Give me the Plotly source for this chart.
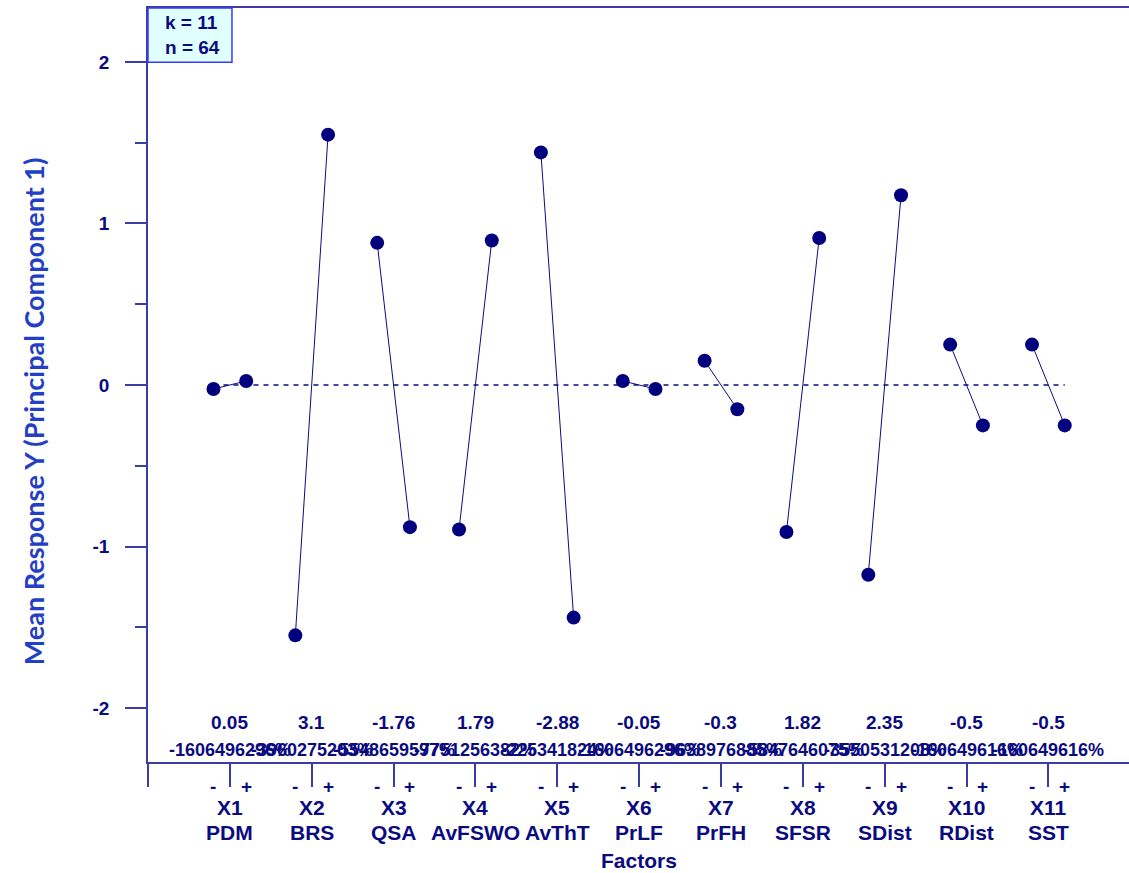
import plotly.graph_objects as go

# Main-effects data: mean response at the low (-) and high (+) level of each factor
factor_ids = ["X1", "X2", "X3", "X4", "X5", "X6", "X7", "X8", "X9", "X10", "X11"]
factor_names = ["PDM", "BRS", "QSA", "AvFSWO", "AvThT", "PrLF", "PrFH", "SFSR", "SDist", "RDist", "SST"]
low_means = [-0.025, -1.55, 0.88, -0.895, 1.44, 0.025, 0.15, -0.91, -1.175, 0.25, 0.25]
high_means = [0.025, 1.55, -0.88, 0.895, -1.44, -0.025, -0.15, 0.91, 1.175, -0.25, -0.25]
effect_labels = ["0.05", "3.1", "-1.76", "1.79", "-2.88", "-0.05", "-0.3", "1.82", "2.35", "-0.5", "-0.5"]
percent_labels = ["-1606496296%", "-3960275203%", "-5548659597%", "-7751256382%", "-225341824%",
                  "-1606496296%", "-9638976885%", "-5847646075%", "-3550531208%", "-160649616%",
                  "-160649616%"]
y_ticks = [-2, -1, 0, 1, 2]
y_tick_text = ["-2", "-1", "0", "1", "2"]
k_factors = 11
n_runs = 64

NAVY = "#0b0b80"
AXIS = "#3c3ca6"
TITLE_BLUE = "#2340c4"
FONT = "Liberation Sans"

positions = list(range(1, len(factor_ids) + 1))
offset = 0.2

fig = go.Figure()

# dashed reference line at zero
fig.add_trace(go.Scatter(
    x=[positions[0] - offset, positions[-1] + offset], y=[0, 0],
    mode="lines", line=dict(color=NAVY, width=1.3, dash="5px,5px"),
    hoverinfo="skip", showlegend=False))

# low/high means joined per factor
xs, ys = [], []
for p, lo, hi in zip(positions, low_means, high_means):
    xs += [p - offset, p + offset, None]
    ys += [lo, hi, None]
fig.add_trace(go.Scatter(
    x=xs, y=ys, mode="lines+markers",
    line=dict(color=NAVY, width=1),
    marker=dict(symbol="circle", size=14, color="#00007f"),
    showlegend=False))

annotations = []
# effect and percentage rows inside the plot
for p, eff, pct in zip(positions, effect_labels, percent_labels):
    annotations.append(dict(x=p, y=-2.09, xref="x", yref="y", text=f"<b>{eff}</b>",
                            showarrow=False, yanchor="middle",
                            font=dict(family=FONT, size=19, color=NAVY)))
    annotations.append(dict(x=p, y=-2.26, xref="x", yref="y", text=f"<b>{pct}</b>",
                            showarrow=False, yanchor="middle",
                            font=dict(family=FONT, size=18, color=NAVY)))

# level signs and factor names below the axis
for p, fid, name in zip(positions, factor_ids, factor_names):
    annotations.append(dict(x=p - offset, y=-0.033, xref="x", yref="paper", text="<b>-</b>",
                            showarrow=False, yanchor="middle",
                            font=dict(family=FONT, size=19, color=NAVY)))
    annotations.append(dict(x=p + offset, y=-0.033, xref="x", yref="paper", text="<b>+</b>",
                            showarrow=False, yanchor="middle",
                            font=dict(family=FONT, size=19, color=NAVY)))
    annotations.append(dict(x=p, y=-0.061, xref="x", yref="paper", text=f"<b>{fid}</b>",
                            showarrow=False, yanchor="middle",
                            font=dict(family=FONT, size=21, color=NAVY)))
    annotations.append(dict(x=p, y=-0.094, xref="x", yref="paper", text=f"<b>{name}</b>",
                            showarrow=False, yanchor="middle",
                            font=dict(family=FONT, size=21, color=NAVY)))

annotations.append(dict(x=0.5, y=-0.13, xref="paper", yref="paper", text="<b>Factors</b>",
                        showarrow=False, xanchor="center", yanchor="middle",
                        font=dict(family=FONT, size=21, color=NAVY)))

annotations.append(dict(x=-0.117, y=0.4655, xref="paper", yref="paper", textangle=-90,
                        xanchor="center", yanchor="middle",
                        text="<b>Mean Response Y (Principal Component 1)</b>",
                        showarrow=False, font=dict(family="Lato", size=27, color=TITLE_BLUE)))

# k / n info box
annotations.append(dict(x=0.0153, y=0.964, xref="paper", yref="paper", xanchor="left",
                        yanchor="middle", text=f"<b>k = {k_factors}<br>n = {n_runs}</b>",
                        align="left", showarrow=False,
                        font=dict(family=FONT, size=19, color=NAVY)))

fig.update_layout(
    width=1129, height=873,
    margin=dict(l=148, r=0, t=8, b=111),
    paper_bgcolor="white", plot_bgcolor="white",
    annotations=annotations,
    shapes=[dict(type="rect", xref="paper", yref="paper", x0=0, x1=0.0856, y0=0.928, y1=1.0,
                 fillcolor="#e0ffff", line=dict(color="#3a3aff", width=1.5), layer="above")],
    xaxis=dict(range=[0, 11.985], showgrid=False, zeroline=False,
               showline=True, linecolor=AXIS, linewidth=1.5, mirror=True,
               tickvals=[0] + positions, ticks="outside", ticklen=23,
               tickcolor=AXIS, tickwidth=1.5, showticklabels=False),
    yaxis=dict(range=[-2.334, 2.334], showgrid=False, zeroline=False,
               showline=True, linecolor=AXIS, linewidth=1.5,
               tickvals=y_ticks, ticktext=y_tick_text, ticks="outside", ticklen=21,
               tickcolor=AXIS, tickwidth=1.5, ticklabelstandoff=12,
               minor=dict(dtick=0.5, ticks="outside", ticklen=11, tickcolor=AXIS, tickwidth=1.5),
               tickfont=dict(family=FONT, size=19, color=NAVY, weight="bold")),
)

fig.write_html("out.html")
